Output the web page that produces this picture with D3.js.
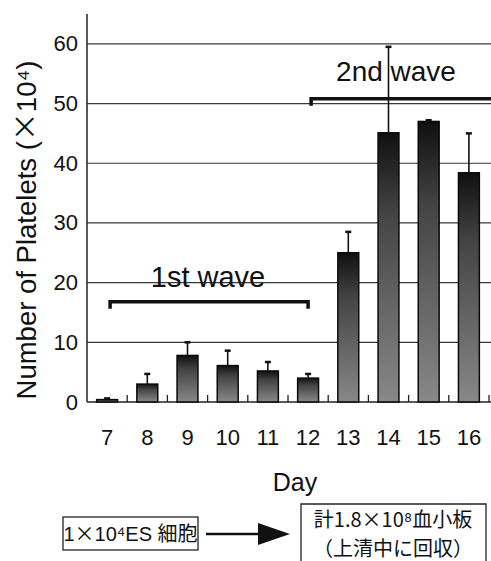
<!DOCTYPE html>
<html>
<head>
<meta charset="utf-8">
<script src="https://cdn.jsdelivr.net/npm/d3@7"></script>
<style>
  body { margin: 0; background: #fff; }
  svg text { font-family: 'Liberation Sans', Arial, sans-serif; fill: #111; }
  .jp { font-family: 'Noto Sans CJK JP', 'Liberation Sans', sans-serif; }
</style>
</head>
<body>
<script>
(function () {
  'use strict'
  // data
  const days = ['7', '8', '9', '10', '11', '12', '13', '14', '15', '16']
  const platelets = [0.4, 3.0, 7.8, 6.1, 5.2, 4.0, 25.0, 45.1, 47.0, 38.4]
  const errors = [0.2, 1.7, 2.2, 2.5, 1.5, 0.7, 3.5, 14.4, 0.2, 6.6]
  const yTicks = [0, 10, 20, 30, 40, 50, 60]
  const waves = [
    {label: '1st wave', from: '7', to: '12', level: 16.8, endTicks: 2},
    {label: '2nd wave', from: '12', to: null, level: 50.8, endTicks: 1}
  ]

  const W = 491, H = 561
  const margin = {top: 14, left: 87, bottom: 159}
  const plotRight = 489

  const svg = d3.select('body').append('svg')
    .attr('width', W)
    .attr('height', H)

  const x = d3.scaleBand().domain(days).range([margin.left, plotRight]).padding(0)
  const y = d3.scaleLinear().domain([0, 65]).range([H - margin.bottom, margin.top])
  const bw = x.bandwidth()

  // gradient for bars
  const grad = svg.append('defs').append('linearGradient')
    .attr('id', 'barGrad')
    .attr('x1', 0).attr('y1', 0).attr('x2', 0).attr('y2', 1)
  grad.append('stop').attr('offset', '0%').attr('stop-color', '#101010')
  grad.append('stop').attr('offset', '30%').attr('stop-color', '#444')
  grad.append('stop').attr('offset', '100%').attr('stop-color', '#888')

  // gridlines
  svg.append('g')
    .selectAll('line')
    .data(yTicks.filter(d => d > 0))
    .enter().append('line')
    .attr('x1', margin.left).attr('x2', W)
    .attr('y1', d => y(d)).attr('y2', d => y(d))
    .style('stroke', '#3a3a3a')
    .style('stroke-width', 1.2)

  // y axis
  const yAxis = svg.append('g')
    .attr('transform', `translate(${margin.left},0)`)
    .call(d3.axisLeft(y).tickValues(yTicks).tickSize(0).tickPadding(9))
  yAxis.select('.domain').remove()
  yAxis.selectAll('text')
    .style('font-size', '22px')
    .attr('font-family', null)
  svg.append('line')
    .attr('x1', margin.left).attr('x2', margin.left)
    .attr('y1', y(65)).attr('y2', y(0))
    .style('stroke', '#222').style('stroke-width', 1.5)

  // x axis: baseline with inward ticks at band edges
  svg.append('line')
    .attr('x1', margin.left).attr('x2', W)
    .attr('y1', y(0)).attr('y2', y(0))
    .style('stroke', '#222').style('stroke-width', 1.5)
  svg.append('g')
    .selectAll('line')
    .data(days)
    .enter().append('line')
    .attr('x1', d => x(d) + bw).attr('x2', d => x(d) + bw)
    .attr('y1', y(0)).attr('y2', y(0) - 7)
    .style('stroke', '#222').style('stroke-width', 1.3)
  svg.append('g')
    .selectAll('text')
    .data(days)
    .enter().append('text')
    .attr('x', d => x(d) + bw / 2)
    .attr('y', y(0) + 43)
    .attr('text-anchor', 'middle')
    .style('font-size', '22px')
    .text(d => d)

  // bars
  const rows = days.map((d, i) => ({day: d, v: platelets[i], e: errors[i]}))
  const barW = bw * 0.52
  svg.append('g')
    .selectAll('rect')
    .data(rows)
    .enter().append('rect')
    .attr('x', d => x(d.day) + (bw - barW) / 2)
    .attr('y', d => y(d.v))
    .attr('width', barW)
    .attr('height', d => y(0) - y(d.v))
    .style('fill', 'url(#barGrad)')
    .style('stroke', '#0a0a0a')
    .style('stroke-width', 1.5)

  // error bars (upper only)
  const errs = svg.append('g')
  errs.selectAll('line.stem')
    .data(rows)
    .enter().append('line')
    .attr('class', 'stem')
    .attr('x1', d => x(d.day) + bw / 2).attr('x2', d => x(d.day) + bw / 2)
    .attr('y1', d => y(d.v)).attr('y2', d => y(d.v + d.e))
    .style('stroke', '#111').style('stroke-width', 1.6)
  errs.selectAll('line.cap')
    .data(rows)
    .enter().append('line')
    .attr('class', 'cap')
    .attr('x1', d => x(d.day) + bw / 2 - 3).attr('x2', d => x(d.day) + bw / 2 + 3)
    .attr('y1', d => y(d.v + d.e)).attr('y2', d => y(d.v + d.e))
    .style('stroke', '#111').style('stroke-width', 2.5)

  // wave brackets
  waves.forEach(w => {
    const x0 = x(w.from) + bw / 2 + 3
    const x1 = w.to ? x(w.to) + bw / 2 : W
    const yy = y(w.level)
    let path = `M${x0},${yy + 7}L${x0},${yy}L${x1},${yy}`
    if (w.endTicks === 2) path += `L${x1},${yy + 7}`
    svg.append('path')
      .attr('d', path)
      .style('fill', 'none')
      .style('stroke', '#111')
      .style('stroke-width', 3.5)
  })
  svg.append('text')
    .attr('x', 208).attr('y', y(waves[0].level) - 15)
    .attr('text-anchor', 'middle')
    .style('font-size', '29px')
    .text(waves[0].label)
  svg.append('text')
    .attr('x', 396).attr('y', y(waves[1].level) - 18)
    .attr('text-anchor', 'middle')
    .style('font-size', '28px')
    .text(waves[1].label)

  // axis titles
  const yTitle = svg.append('text')
    .attr('transform', `translate(36, 230) rotate(-90)`)
    .attr('text-anchor', 'middle')
    .style('font-size', '27.5px')
  yTitle.append('tspan').text('Number of Platelets (')
  yTitle.append('tspan').attr('class', 'jp').style('font-size', '29px').text('×')
  yTitle.append('tspan').text('10⁴)')

  svg.append('text')
    .attr('x', 295).attr('y', 491)
    .attr('text-anchor', 'middle')
    .style('font-size', '25px')
    .text('Day')

  // bottom scheme: ES cells -> platelets
  svg.append('rect')
    .attr('x', 63).attr('y', 517).attr('width', 135).attr('height', 33)
    .style('fill', 'none').style('stroke', '#222').style('stroke-width', 1.3)
  const t1 = svg.append('text')
    .attr('x', 130.5).attr('y', 541)
    .attr('text-anchor', 'middle')
    .style('font-size', '20px')
  t1.append('tspan').text('1')
  t1.append('tspan').attr('class', 'jp').text('×')
  t1.append('tspan').text('10⁴ES ')
  t1.append('tspan').attr('class', 'jp').text('細胞')

  svg.append('line')
    .attr('x1', 206).attr('x2', 260).attr('y1', 534).attr('y2', 534)
    .style('stroke', '#111').style('stroke-width', 2.5)
  svg.append('path')
    .attr('d', 'M258,523L290,534L258,545Z')
    .style('fill', '#111')

  svg.append('path')
    .attr('d', 'M301,563L301,504L486,504L486,563')
    .style('fill', 'none').style('stroke', '#222').style('stroke-width', 1.3)
  svg.append('text')
    .attr('class', 'jp')
    .attr('x', 393).attr('y', 527)
    .attr('text-anchor', 'middle')
    .style('font-size', '20px')
    .text('計1.8×10⁸血小板')
  svg.append('text')
    .attr('class', 'jp')
    .attr('x', 393).attr('y', 556)
    .attr('text-anchor', 'middle')
    .style('font-size', '20px')
    .text('（上清中に回収）')
})()
</script>
</body>
</html>
